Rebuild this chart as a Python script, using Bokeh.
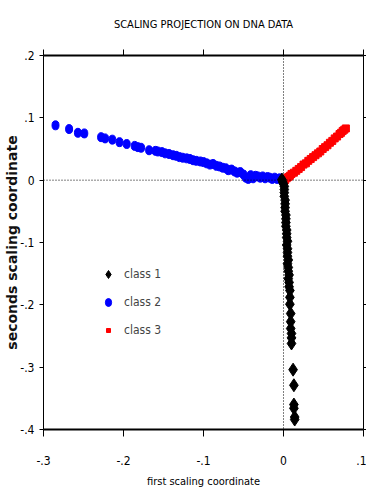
from bokeh.plotting import figure
from bokeh.models import (Range1d, FixedTicker, LinearAxis, Span, Legend, LegendItem,
                          CustomLabelingPolicy)
from bokeh.embed import file_html
from bokeh.resources import INLINE

# ---- data ----
class1_x = [-0.002, -0.001, 0.000, 0.001, 0.001, 0.001, 0.001, 0.002, 0.002, 0.002, 0.002, 0.003,
            0.003, 0.003, 0.003, 0.004, 0.004, 0.004, 0.005, 0.004, 0.005, 0.005, 0.005, 0.006,
            0.005, 0.006, 0.006, 0.007, 0.006, 0.007, 0.007, 0.008, 0.008, 0.008, 0.009, 0.009,
            0.009, 0.010, 0.010, 0.010, 0.012, 0.013, 0.013, 0.013, 0.014, 0.014]
class1_y = [0.001, -0.003, -0.006, -0.010, -0.015, -0.020, -0.026, -0.032, -0.038, -0.044, -0.050, -0.056,
            -0.062, -0.068, -0.074, -0.080, -0.086, -0.092, -0.098, -0.104, -0.110, -0.116, -0.122, -0.128,
            -0.134, -0.140, -0.146, -0.152, -0.158, -0.164, -0.171, -0.177, -0.188, -0.199, -0.214, -0.227,
            -0.238, -0.246, -0.253, -0.262, -0.304, -0.329, -0.360, -0.366, -0.380, -0.384]

class2_x = [-0.285, -0.268, -0.257, -0.249, -0.228, -0.223, -0.214, -0.205, -0.196, -0.186, -0.182, -0.178,
            -0.168, -0.160, -0.157, -0.152, -0.148, -0.143, -0.138, -0.134, -0.130, -0.126, -0.121, -0.117,
            -0.113, -0.109, -0.104, -0.100, -0.096, -0.092, -0.088, -0.084, -0.080, -0.076, -0.072, -0.069,
            -0.065, -0.061, -0.058, -0.054, -0.050, -0.047, -0.044, -0.041, -0.038, -0.035, -0.032, -0.029,
            -0.026, -0.023, -0.020, -0.017, -0.014, -0.011, -0.008, -0.005, -0.003]
class2_y = [0.088, 0.082, 0.076, 0.075, 0.069, 0.067, 0.065, 0.061, 0.058, 0.055, 0.053, 0.052,
            0.048, 0.047, 0.046, 0.045, 0.043, 0.042, 0.040, 0.039, 0.037, 0.036, 0.035, 0.034,
            0.032, 0.031, 0.030, 0.029, 0.027, 0.025, 0.026, 0.023, 0.022, 0.020, 0.019, 0.016,
            0.017, 0.014, 0.012, 0.013, 0.009, 0.004, 0.002, 0.008, 0.003, 0.007, 0.006, 0.004,
            0.006, 0.003, 0.005, 0.004, 0.002, 0.004, 0.002, 0.003, 0.001]

class3_x = [0.002, 0.004, 0.006, 0.008, 0.010, 0.013, 0.016, 0.019, 0.022, 0.025, 0.028, 0.031, 0.034,
            0.037, 0.040, 0.043, 0.046, 0.049, 0.052, 0.055, 0.058, 0.061, 0.064, 0.067, 0.070, 0.072,
            0.074, 0.076, 0.078]
class3_y = [0.000, 0.003, 0.005, 0.007, 0.010, 0.012, 0.015, 0.018, 0.021, 0.025, 0.027, 0.031, 0.034,
            0.037, 0.040, 0.043, 0.046, 0.050, 0.053, 0.056, 0.060, 0.063, 0.067, 0.070, 0.074, 0.076,
            0.079, 0.081, 0.083]

x_ticks = [-0.3, -0.2, -0.1, 0.0, 0.1]
x_tick_labels = ["-.3", "-.2", "-.1", "0", ".1"]
y_ticks = [-0.4, -0.3, -0.2, -0.1, 0.0, 0.1, 0.2]
y_tick_labels = ["-.4", "-.3", "-.2", "-.1", "0", ".1", ".2"]

labels = ["class 1", "class 2", "class 3"]
title = "SCALING PROJECTION ON DNA DATA"
x_label = "first scaling coordinate"
y_label = "seconds scaling coordinate"

FONT = "DejaVu Sans Condensed"

p = figure(width=366, height=490, output_backend="svg", toolbar_location=None,
           x_range=Range1d(-0.3, 0.1), y_range=Range1d(-0.4, 0.2),
           x_axis_location=None, y_axis_location=None,
           min_border_left=43, min_border_right=3, min_border_top=55, min_border_bottom=61)
p.outline_line_color = None
p.xgrid.visible = False
p.ygrid.visible = False
p.background_fill_color = "white"
p.border_fill_color = "white"

p.title.text = title
p.title.align = "center"
p.title.vertical_align = "top"
p.title.text_font = FONT
p.title.text_font_size = "11px"
p.title.text_font_style = "normal"
p.title.text_color = "black"
p.title.standoff = 34

no_labels = CustomLabelingPolicy(code="return []")

def mk_axis(ticks, lbls, width, show_labels, tick_out):
    ax = LinearAxis(ticker=FixedTicker(ticks=ticks))
    ax.axis_line_width = width
    ax.axis_line_color = "black"
    ax.major_tick_line_color = "black"
    ax.major_tick_line_width = 1
    ax.major_tick_in = 0
    ax.major_tick_out = tick_out
    ax.minor_tick_line_color = None
    ax.major_label_text_font = FONT
    ax.major_label_text_font_size = "12px"
    ax.major_label_text_color = "black"
    if show_labels:
        ax.major_label_overrides = {t: l for t, l in zip(ticks, lbls)}
    else:
        ax.major_label_overrides = {t: "" for t in ticks}
        ax.major_label_policy = no_labels
        ax.major_label_standoff = 0
    return ax

bottom = mk_axis(x_ticks, x_tick_labels, 2, True, 7)
bottom.major_label_standoff = 19
bottom.axis_label = x_label
bottom.axis_label_text_font = FONT
bottom.axis_label_text_font_size = "11px"
bottom.axis_label_text_font_style = "normal"
bottom.axis_label_text_color = "black"
bottom.axis_label_standoff = 7
p.add_layout(bottom, "below")

left = mk_axis(y_ticks, y_tick_labels, 1, True, 4)
left.major_label_standoff = 5
left.axis_label = y_label
left.axis_label_text_font = "DejaVu Sans"
left.axis_label_text_font_size = "14px"
left.axis_label_text_font_style = "bold"
left.axis_label_text_color = "#111111"
left.axis_label_standoff = -3
p.add_layout(left, "left")

top = mk_axis(x_ticks, x_tick_labels, 2, False, 6)
p.add_layout(top, "above")
right = mk_axis(y_ticks, y_tick_labels, 1, False, 3)
p.add_layout(right, "right")

p.add_layout(Span(location=0, dimension="width", line_color="black", line_width=1, line_dash="1 2"))
p.add_layout(Span(location=0, dimension="height", line_color="black", line_width=1, line_dash="1 2"))

r2 = p.ellipse(class2_x, class2_y, width=7, height=9, width_units="screen", height_units="screen",
               fill_color="#0000ff", line_color="#0000ff")
r3 = p.scatter(class3_x, class3_y, marker="square", size=7, fill_color="#ff0000", line_color="#ff0000")
r1 = p.scatter(class1_x, class1_y, marker="diamond", size=13, fill_color="black", line_color="black")

leg_a = Legend(items=[LegendItem(label=labels[0], renderers=[r1])],
               location=(55, 145), border_line_color=None, background_fill_alpha=0,
               label_text_font=FONT, label_text_font_size="12px", spacing=8,
               glyph_width=20, glyph_height=20, label_standoff=6)
leg_b = Legend(items=[LegendItem(label=labels[1], renderers=[r2]),
                      LegendItem(label=labels[2], renderers=[r3])],
               location=(60, 89), border_line_color=None, background_fill_alpha=0,
               label_text_font=FONT, label_text_font_size="12px", spacing=8,
               glyph_width=10, glyph_height=20, label_standoff=11)
p.add_layout(leg_a)
p.add_layout(leg_b)

open("out.html", "w").write(file_html(p, INLINE))
